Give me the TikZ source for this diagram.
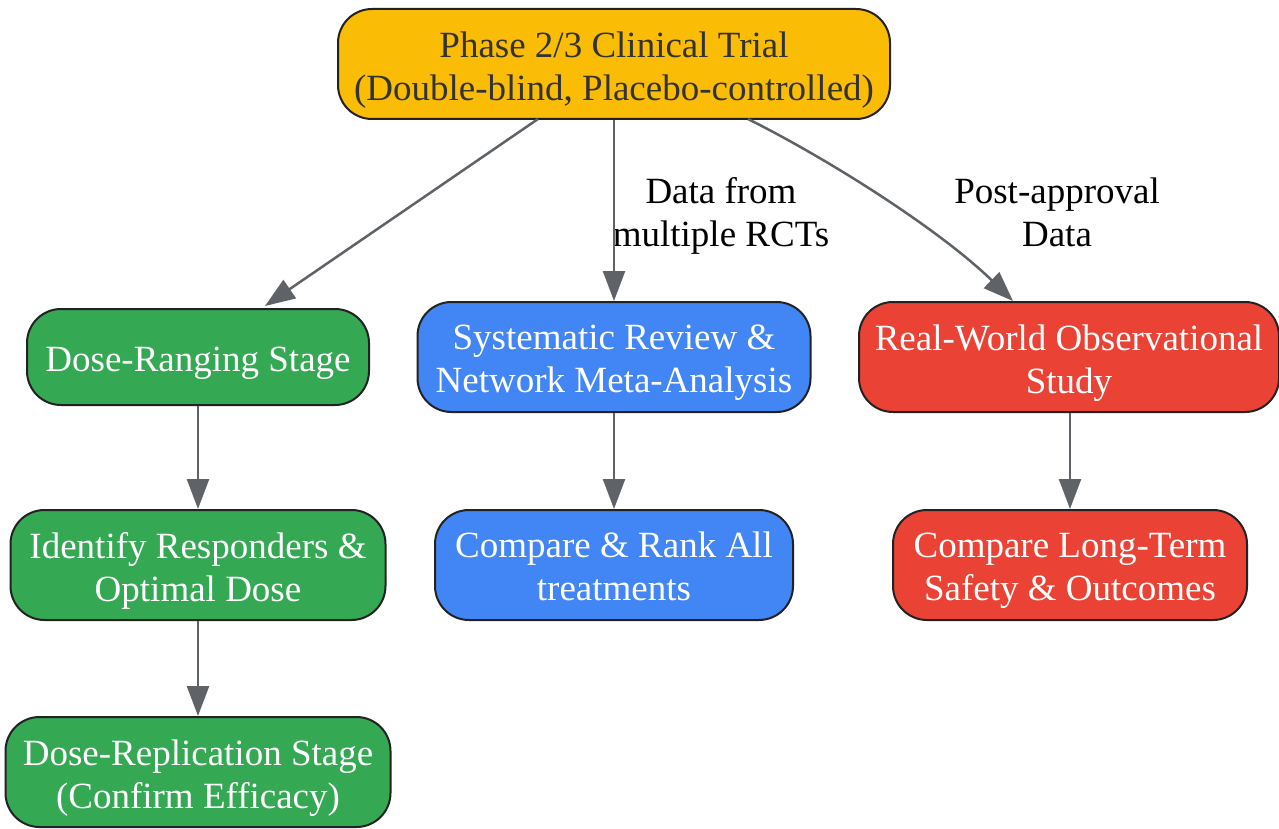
\documentclass[tikz,border=0pt]{standalone}
\usepackage{fontspec}
\setmainfont{Liberation Serif}
\usetikzlibrary{arrows.meta}
\definecolor{cyellow}{HTML}{FBBC05}
\definecolor{cgreen}{HTML}{34A853}
\definecolor{cblue}{HTML}{4285F4}
\definecolor{cred}{HTML}{EA4335}
\definecolor{cedge}{HTML}{5F6368}
\definecolor{cstroke}{HTML}{222222}
\definecolor{ctext}{HTML}{333333}
\tikzset{
  box/.style={draw=cstroke, line width=2pt, rounded corners=34pt, inner sep=0pt},
  boxtext/.style={align=center, inner sep=0pt, font=\fontsize{37}{43}\selectfont, text=white},
  conn/.style={draw=cedge, line width=2.5pt, -{Triangle[length=30pt,width=22pt]}},
  elabel/.style={align=center, inner sep=0pt, font=\fontsize{37}{43}\selectfont, text=black},
}
\begin{document}
\begin{tikzpicture}[x=1pt,y=-1pt]
\useasboundingbox (0,0) rectangle (1279,829);
\node[box, fill=cyellow, minimum width=552pt, minimum height=110pt] (top) at (614,64) {};
\node[box, fill=cgreen, minimum width=342pt, minimum height=96pt] (dr) at (198,357) {};
\node[box, fill=cgreen, minimum width=375pt, minimum height=110pt] (id) at (198,565) {};
\node[box, fill=cgreen, minimum width=385pt, minimum height=110pt] (rep) at (198,772) {};
\node[box, fill=cblue, minimum width=393pt, minimum height=110pt] (sr) at (614,357) {};
\node[box, fill=cblue, minimum width=358pt, minimum height=110pt] (cr) at (614,565) {};
\node[box, fill=cred, minimum width=420pt, minimum height=110pt] (rw) at (1069,357) {};
\node[box, fill=cred, minimum width=354pt, minimum height=110pt] (lt) at (1070,565) {};
\node[boxtext, text=ctext] (top-t) at (614,70) {Phase 2/3 Clinical Trial\\(Double-blind, Placebo-controlled)};
\node[boxtext] (dr-t) at (198,363) {Dose-Ranging Stage};
\node[boxtext] (id-t) at (198,571) {Identify Responders \&\\Optimal Dose};
\node[boxtext] (rep-t) at (198,778) {Dose-Replication Stage\\(Confirm Efficacy)};
\node[boxtext] (sr-t) at (614,363) {Systematic Review \&\\Network Meta-Analysis};
\node[boxtext] (cr-t) at (614,566) {Compare \& Rank All\\treatments};
\node[boxtext] (rw-t) at (1069,363) {Real-World Observational\\Study};
\node[boxtext] (lt-t) at (1070,571) {Compare Long-Term\\Safety \& Outcomes};
\node[elabel] (l1) at (721,216) {Data from\\multiple RCTs};
\node[elabel] (l2) at (1057,212) {Post-approval\\Data};
\coordinate (s1) at (538,119);
\coordinate (e1) at (265,306);
\coordinate (s3) at (748,119);
\coordinate (e3) at (1013,301);
\draw[conn] (s1) -- (e1);
\draw[conn] (top.south) -- (sr.north);
\draw[conn] (s3) .. controls (830,160) and (940,230) .. (e3);
\draw[conn] (dr.south) -- (id.north);
\draw[conn] (id.south) -- (rep.north);
\draw[conn] (sr.south) -- (cr.north);
\draw[conn] (rw.south -| lt.north) -- (lt.north);
\end{tikzpicture}
\end{document}
